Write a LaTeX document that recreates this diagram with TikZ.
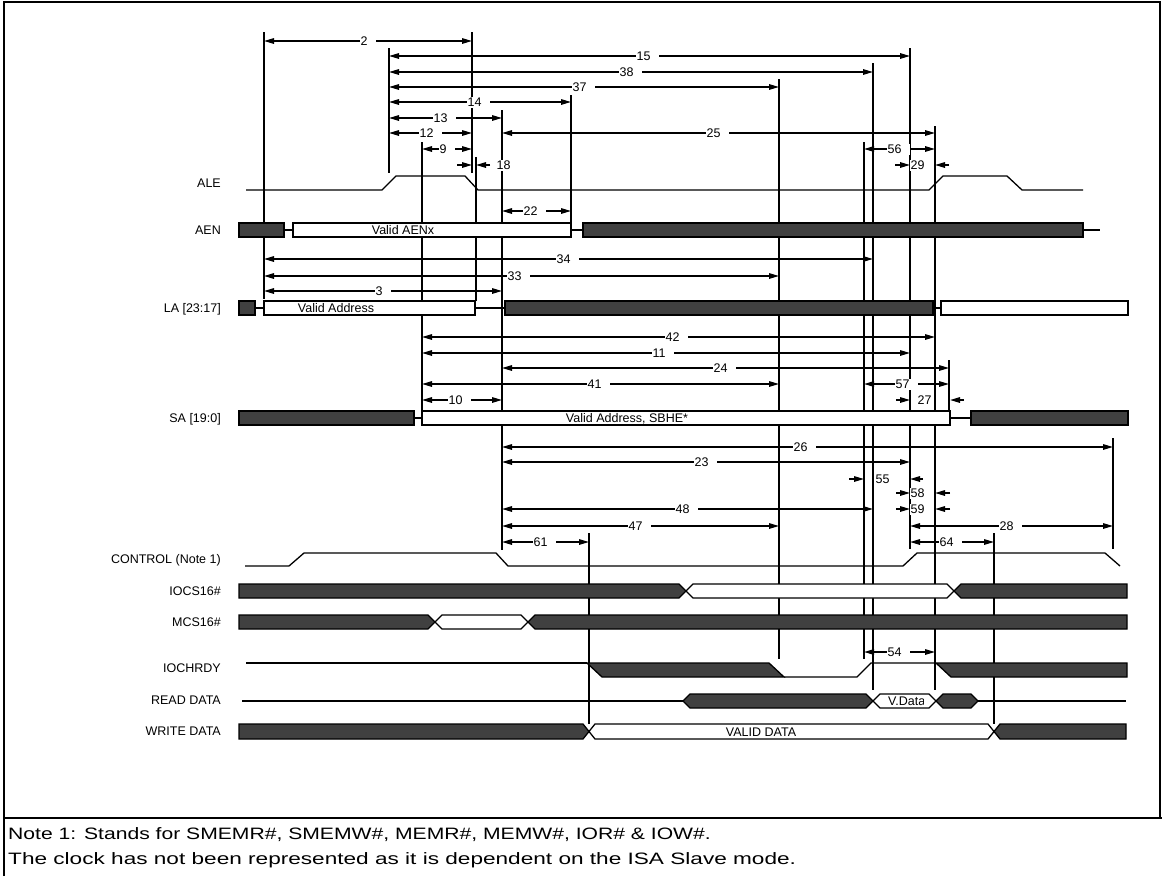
\documentclass[tikz,border=0pt]{standalone}
\usepackage{fontspec}
\setmainfont{Liberation Sans}
\usetikzlibrary{arrows.meta}
\definecolor{busdark}{RGB}{64,64,64}
\newcommand{\lblfont}{\fontsize{12.5}{14}\selectfont}
\newcommand{\dimar}[5]{%
  \draw[dimline] (#1,#3) -- (#2,#3);
  \node[dimlab] (lab#5) at (#4,#3+4.5) {#5\hspace*{8pt}\mbox{}};}
\newcommand{\outar}[7]{%
  \draw[outarrow] (#2,#1) -- (#3,#1);
  \draw[outarrow] (#4,#1) -- (#5,#1);
  \node[dimlab] (lab#7) at (#6,#1+4.5) {#7};}
\begin{document}
\begin{tikzpicture}[x=1pt,y=-1pt,
  every node/.style={font=\lblfont},
  frameline/.style={line width=2pt},
  sigline/.style={line width=1.3pt, line join=miter},
  busd/.style={draw=black, line width=1.3pt, fill=busdark, line join=miter},
  busw/.style={draw=black, line width=1.3pt, fill=white, line join=miter},
  vthin/.style={line width=1.4pt},
  vmid/.style={line width=1.9pt},
  vthick/.style={line width=2.7pt},
  dimline/.style={line width=1.5pt, {Triangle[length=10pt,width=5.5pt]}-{Triangle[length=10pt,width=5.5pt]}},
  outarrow/.style={line width=1.5pt, -{Triangle[length=10pt,width=5.5pt]}},
  dimlab/.style={anchor=base west, fill=white, inner xsep=0.5pt, inner ysep=1pt},
  siglab/.style={anchor=base east, inner sep=0pt},
  bustext/.style={anchor=base, inner sep=0pt}]
\useasboundingbox (0,0) rectangle (1162,876);
% frame
\draw[frameline] (4,876) -- (4,2) -- (1160,2) -- (1160,818);
\draw[frameline] (4,818) -- (1162,818);

% vertical reference lines
\draw[vthin]  (264,32) -- (264,299);
\draw[vthick] (389,48) -- (389,173);
\draw[vthin]  (472,32) -- (472,173);
\draw[vthin]  (476,157) -- (476,301);
\draw[vthin]  (422,142) -- (422,411);
\draw[vthick] (502,110) -- (502,550);
\draw[vthin]  (571,95) -- (571,223);
\draw[vmid]   (779,79) -- (779,659);
\draw[vthin]  (864,142) -- (864,659);
\draw[vthin]  (873,63) -- (873,690);
\draw[vmid]   (910,48) -- (910,549);
\draw[vthick] (935,126) -- (935,173);
\draw[vthin]  (935,173) -- (935,690);
\draw[vthick] (949,360) -- (949,410);
\draw[vthick] (1113,438) -- (1113,549);
\draw[vthin]  (589,533) -- (589,724);
\draw[vthin]  (994,533) -- (994,724);

% signal names
\node[siglab] (nALE)  at (221,187.5) {ALE};
\node[siglab] (nAEN)  at (221,234.5) {AEN};
\node[siglab] (nLA)   at (221,312) {LA [23:17]};
\node[siglab] (nSA)   at (221,422.5) {SA [19:0]};
\node[siglab] (nCTL)  at (221,563.5) {CONTROL (Note 1)};
\node[siglab] (nIOCS) at (221,595) {IOCS16\#};
\node[siglab] (nMCS)  at (221,626) {MCS16\#};
\node[siglab] (nRDY)  at (221,672.5) {IOCHRDY};
\node[siglab] (nRD)   at (221,704.5) {READ DATA};
\node[siglab] (nWR)   at (221,735.5) {WRITE DATA};

% ALE
\draw[sigline] (246,190) -- (382,190) -- (396,176) -- (465,176) -- (478,190) -- (929,190)
  -- (943,176) -- (1007,176) -- (1022,190) -- (1083,190);

% AEN
\draw[busd] (239,223) rectangle (284,237);
\draw[sigline] (284,230) -- (293,230);
\draw[busw] (293,223) rectangle (571,237);
\node[bustext] (tAEN) at (403,234.5) {Valid AENx};
\draw[sigline] (571,230) -- (583,230);
\draw[busd] (583,223) rectangle (1083,237);
\draw[sigline] (1083,230) -- (1100,230);

% LA
\draw[busd] (239,301) rectangle (255,315);
\draw[sigline] (255,308) -- (264,308);
\draw[busw] (264,301) rectangle (475,315);
\node[bustext] (tLA) at (336,312.5) {Valid Address};
\draw[sigline] (475,308) -- (505,308);
\draw[busd] (505,301) rectangle (933,315);
\draw[sigline] (933,308) -- (941,308);
\draw[busw] (941,301) rectangle (1128,315);

% SA
\draw[busd] (239,411) rectangle (414,425);
\draw[sigline] (414,418) -- (422,418);
\draw[busw] (422,411) rectangle (950,425);
\node[bustext] (tSA) at (627,422.5) {Valid Address, SBHE*};
\draw[sigline] (950,418) -- (971,418);
\draw[busd] (971,411) rectangle (1128,425);

% CONTROL
\draw[sigline] (245,566) -- (289,566) -- (304,553) -- (496,553) -- (508,566) -- (903,566)
  -- (917,553) -- (1105,553) -- (1120,566);

% IOCS16#
\draw[busd] (239,584) -- (679,584) -- (686,591) -- (679,598) -- (239,598) -- cycle;
\draw[busw] (686,591) -- (693,584) -- (947,584) -- (954,591) -- (947,598) -- (693,598) -- cycle;
\draw[busd] (954,591) -- (961,584) -- (1127,584) -- (1127,598) -- (961,598) -- cycle;

% MCS16#
\draw[busd] (239,615) -- (428,615) -- (435,622) -- (428,629) -- (239,629) -- cycle;
\draw[busw] (435,622) -- (442,615) -- (521,615) -- (528,622) -- (521,629) -- (442,629) -- cycle;
\draw[busd] (528,622) -- (535,615) -- (1127,615) -- (1127,629) -- (535,629) -- cycle;

% IOCHRDY
\draw[sigline] (246,663) -- (587,663);
\draw[busd] (587,663) -- (769,663) -- (784,677) -- (602,677) -- cycle;
\draw[sigline] (784,677) -- (857,677) -- (871,663) -- (936,663);
\draw[busd] (936,663) -- (1127,663) -- (1127,677) -- (951,677) -- cycle;

% READ DATA
\draw[sigline] (242,701) -- (683,701);
\draw[busd] (683,701) -- (690,694) -- (866,694) -- (873,701) -- (866,708) -- (690,708) -- cycle;
\draw[busw] (873,701) -- (880,694) -- (929,694) -- (936,701) -- (929,708) -- (880,708) -- cycle;
\begin{scope}
  \clip (880,694) rectangle (923,708);
  \node[anchor=base west, inner sep=0pt] (tVD) at (888,705.5) {V.Data};
\end{scope}
\draw[busd] (936,701) -- (943,694) -- (971,694) -- (978,701) -- (971,708) -- (943,708) -- cycle;
\draw[sigline] (978,701) -- (1126,701);

% WRITE DATA
\draw[busd] (239,724) -- (583,724) -- (589,731.5) -- (583,739) -- (239,739) -- cycle;
\draw[busw] (589,731.5) -- (595,724) -- (988,724) -- (994,731.5) -- (988,739) -- (595,739) -- cycle;
\node[bustext] (tWD) at (761,736) {VALID DATA};
\draw[busd] (994,731.5) -- (1000,724) -- (1126,724) -- (1126,739) -- (1000,739) -- cycle;

% dimension arrows
\dimar{264}{472}{41}{360}{2}
\dimar{389}{910}{56}{636}{15}
\dimar{389}{873}{72}{619}{38}
\dimar{389}{779}{87}{572}{37}
\dimar{389}{571}{102}{467}{14}
\dimar{389}{502}{118}{433}{13}
\dimar{389}{472}{133}{419}{12}
\dimar{502}{935}{133}{706}{25}
\dimar{422}{472}{149}{439}{9}
\dimar{864}{935}{149}{887}{56}
\dimar{502}{571}{211}{523}{22}
\dimar{264}{873}{259}{556}{34}
\dimar{264}{779}{276}{507}{33}
\dimar{264}{502}{291}{375}{3}
\dimar{422}{935}{337}{665}{42}
\dimar{422}{910}{353}{652}{11}
\dimar{502}{949}{368}{713}{24}
\dimar{422}{779}{384}{587}{41}
\dimar{864}{949}{384}{895}{57}
\dimar{422}{502}{400}{448}{10}
\dimar{502}{1113}{447}{793}{26}
\dimar{502}{910}{462}{694}{23}
\dimar{502}{873}{509}{675}{48}
\dimar{502}{779}{526}{628}{47}
\dimar{910}{1113}{526}{999}{28}
\dimar{502}{589}{542}{533}{61}
\dimar{910}{994}{542}{939}{64}
\dimar{864}{935}{652}{887}{54}

% outside arrows
\outar{165}{457}{472}{490}{476}{496}{18}
\outar{165}{895}{910}{949}{935}{910}{29}
\outar{479}{849}{864}{923}{910}{875}{55}
\outar{493}{896}{910}{950}{935}{910}{58}
\outar{509}{896}{910}{950}{935}{910}{59}
\outar{400}{896}{910}{964}{950}{917}{27}

% notes
\node[anchor=base west, inner sep=0pt] (note1) at (8,839)
  {\scalebox{1.28}[1]{\fontsize{16.5}{18}\selectfont Note 1: Stands for SMEMR\#, SMEMW\#, MEMR\#, MEMW\#, IOR\# \& IOW\#.}};
\node[anchor=base west, inner sep=0pt] (note2) at (8,864)
  {\scalebox{1.37}[1]{\fontsize{16.5}{18}\selectfont The clock has not been represented as it is dependent on the ISA Slave mode.}};
\end{tikzpicture}
\end{document}
